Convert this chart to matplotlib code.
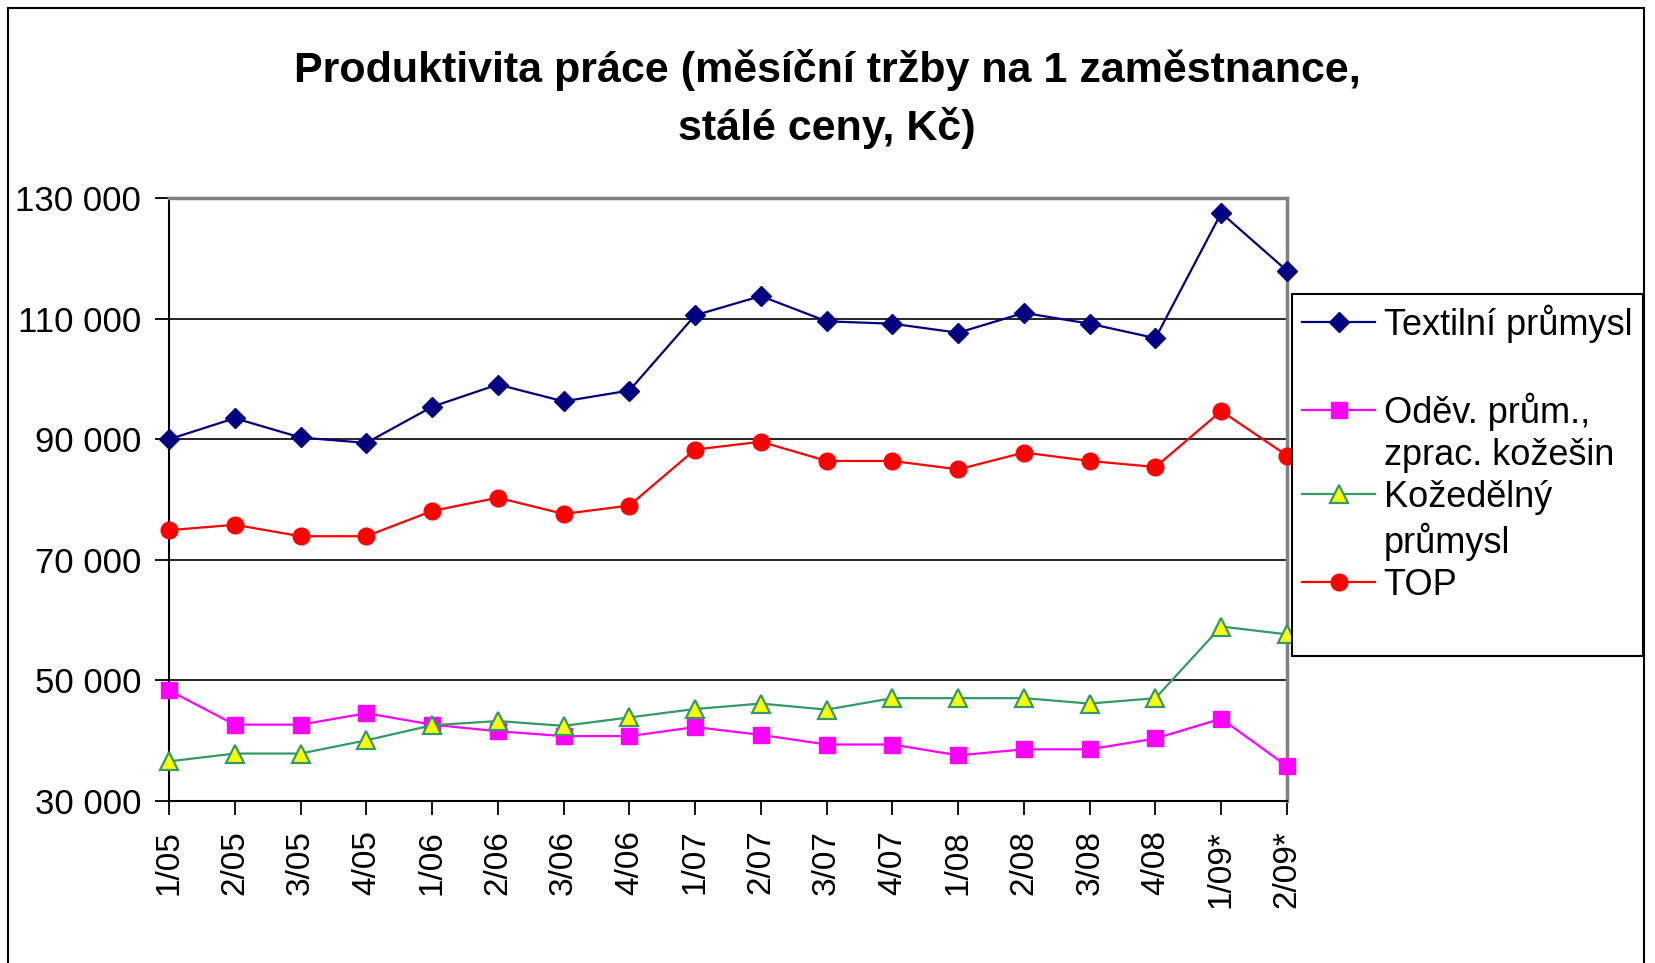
### Labour productivity chart (monthly sales per employee, constant prices)

import matplotlib
matplotlib.use('Agg')
import matplotlib.pyplot as pp
from matplotlib.lines import Line2D
from matplotlib.patches import Rectangle
from matplotlib.ticker import FuncFormatter, FixedLocator

pp.rcParams['font.family'] = ['Liberation Sans', 'DejaVu Sans']

# Quarters
periods = ['1/05', '2/05', '3/05', '4/05', '1/06', '2/06', '3/06', '4/06',
           '1/07', '2/07', '3/07', '4/07', '1/08', '2/08', '3/08', '4/08',
           '1/09*', '2/09*']

# Series values (Kc)
textil = [90000, 93500, 90300, 89400, 95400, 99100, 96300, 98100,
          110600, 113800, 109600, 109200, 107700, 111000, 109200, 106800,
          127600, 118000]
odev = [48300, 42600, 42600, 44500, 42600, 41500, 40700, 40700,
        42200, 40900, 39300, 39300, 37500, 38500, 38500, 40300,
        43600, 35700]
kozed = [36500, 37800, 37800, 40000, 42500, 43200, 42400, 43800,
         45200, 46100, 45100, 47000, 47000, 47000, 46100, 47000,
         58900, 57600]
top = [74900, 75800, 73900, 73900, 78100, 80300, 77600, 79000,
       88300, 89600, 86400, 86400, 85000, 87800, 86400, 85400,
       94700, 87300]

yticks = [30000, 50000, 70000, 90000, 110000, 130000]

W, H = 1656, 963
fig = pp.figure(figsize=(W/100, H/100), dpi=100)
ax = fig.add_axes([169/W, 1-800.5/H, (1287-169)/W, (800.5-198.5)/H])

x = list(range(len(periods)))
l_tex, = ax.plot(x, textil, color='#000080', lw=1.6, marker='D', ms=9.7,
                 mfc='#000080', mec='#000080', zorder=5, clip_on=False)
l_odv, = ax.plot(x, odev, color='#FF00FF', lw=1.6, marker='s', ms=12,
                 mfc='#FF00FF', mec='#FF00FF', zorder=5, clip_on=False)
l_koz, = ax.plot(x, kozed, color='#339966', lw=1.6, marker='^', ms=13,
                 mfc='#FFFF00', mec='#339966', mew=1.6, zorder=5, clip_on=False)
l_top, = ax.plot(x, top, color='#FF0000', lw=1.6, marker='o', ms=12,
                 mfc='#FF0000', mec='#FF0000', zorder=5, clip_on=False)

# Axes
ax.set_xlim(0, len(periods)-1)
ax.set_ylim(30000, 130000)
ax.yaxis.set_major_locator(FixedLocator(yticks))
ax.yaxis.set_major_formatter(FuncFormatter(lambda v, p: f'{int(v):,}'.replace(',', ' ')))
ax.set_xticks(x)
ax.set_xticklabels(periods, rotation=90)
ax.tick_params(axis='y', labelsize=25, length=10, width=1.3, pad=10, direction='out')
ax.tick_params(axis='x', labelsize=24, length=10, width=1.3, pad=11, direction='out')
ax.grid(axis='y', color='black', lw=1.2, zorder=1)
ax.set_axisbelow(True)
for s in ['left', 'bottom']:
    ax.spines[s].set_color('black')
    ax.spines[s].set_linewidth(1.5)
for s in ['top', 'right']:
    ax.spines[s].set_color('#808080')
    ax.spines[s].set_linewidth(2.5)

# Title
fig.text(827/W, 1-70/H, 'Produktivita práce (měsíční tržby na 1 zaměstnance,',
         ha='center', va='center', fontsize=31, fontweight='bold')
fig.text(827/W, 1-128/H, 'stálé ceny, Kč)',
         ha='center', va='center', fontsize=31, fontweight='bold')

# Legend, rows with multi-line labels use blank handles
blank = Line2D([], [], linestyle='none')
handles = [l_tex, blank, l_odv, blank, l_koz, blank, l_top, blank]
labels = ['Textilní průmysl', ' ', 'Oděv. prům.,', 'zprac. kožešin',
          'Kožedělný', 'průmysl', 'TOP', ' ']
leg = fig.legend(handles, labels, loc='upper right',
                 bbox_to_anchor=(1643/W, 1-293.6/H), fontsize=26,
                 numpoints=1, handlelength=2.0, handletextpad=0.25,
                 labelspacing=0.2, borderpad=0.3, borderaxespad=0,
                 frameon=True, framealpha=1, fancybox=False,
                 edgecolor='black')
leg.get_frame().set_linewidth(1.5)

# Outer chart frame
fig.add_artist(Rectangle((8/W, -0.1), (1644-8)/W, 1.1-8/H, fill=False,
                         ec='black', lw=1.5, transform=fig.transFigure,
                         clip_on=False))

pp.savefig('out.png', dpi=100)
pp.close()
